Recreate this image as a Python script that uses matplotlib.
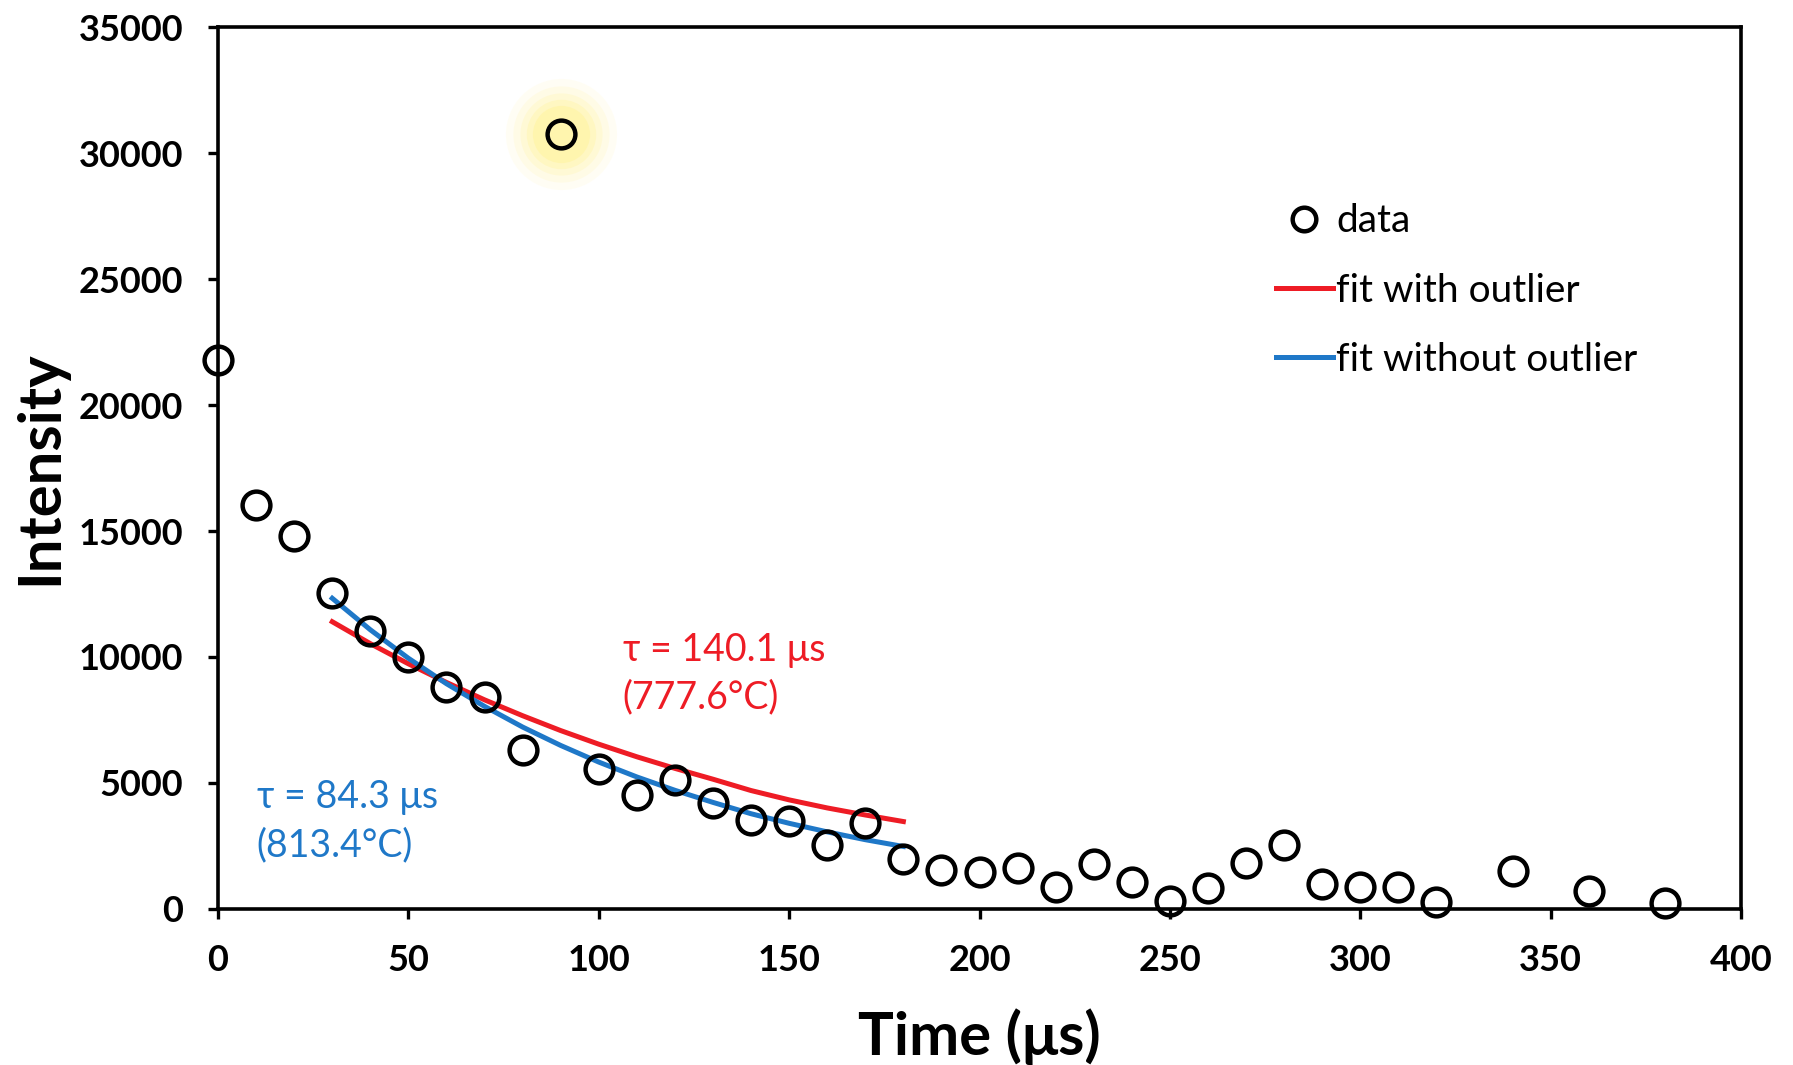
import numpy as np
import matplotlib
matplotlib.use("Agg")
from matplotlib import pyplot as plt

plt.rcParams['font.family'] = ['Lato', 'DejaVu Sans']

# measured data (time in us, intensity)
time = [0, 10, 20, 30, 40, 50, 60, 70, 80, 90, 100, 110, 120, 130, 140, 150,
        160, 170, 180, 190, 200, 210, 220, 230, 240, 250, 260, 270, 280, 290,
        300, 310, 320, 340, 360, 380]
intensity = [21800, 16050, 14800, 12550, 11030, 9990, 8800, 8400, 6300, 30750,
             5540, 4540, 5130, 4220, 3540, 3500, 2540, 3400, 2000, 1540,
             1450, 1630, 860, 1770, 1090, 320, 820, 1820, 2540, 1000,
             860, 860, 270, 1500, 730, 230]
outlier_idx = 9

# fit curves
fit_t = [30, 40, 50, 60, 70, 80, 90, 100, 110, 120, 130, 140, 150, 160, 170, 180]
fit_with = [11400, 10530, 9730, 8990, 8300, 7670, 7080, 6540, 6040, 5580,
            5150, 4700, 4330, 4010, 3730, 3470]
fit_without = [12330, 11080, 9950, 8940, 8040, 7220, 6490, 5830, 5240, 4710,
               4230, 3780, 3400, 3060, 2750, 2480]

red = '#ee1c25'
blue = '#1f78c8'

fig = plt.figure(figsize=(17.93, 10.65), dpi=100)
ax = fig.add_axes([0.1216, 0.1465, 0.8494, 0.8281])

# yellow glow behind the outlier
ox, oy = time[outlier_idx], intensity[outlier_idx]
for s, a in zip([6400, 4800, 3500, 2500, 1700], [0.08, 0.11, 0.15, 0.2, 0.25]):
    ax.scatter([ox], [oy], s=s, color='#fff176', alpha=a, lw=0, zorder=1)

ax.plot(fit_t, fit_with, color=red, lw=3.6, zorder=2, label='fit with outlier')
ax.plot(fit_t, fit_without, color=blue, lw=3.6, zorder=2, label='fit without outlier')
ax.plot(time, intensity, 'o', ms=20, mfc='none', mec='black', mew=3.2,
        zorder=3, label='data', clip_on=False)

ax.text(106.3, 11000, 'τ = 140.1 μs\n(777.6°C)', color=red, fontsize=27,
        va='top', ha='left', linespacing=1.4)
ax.text(10.2, 5150, 'τ = 84.3 μs\n(813.4°C)', color=blue, fontsize=27,
        va='top', ha='left', linespacing=1.4)

ax.set_xlim(0, 400)
ax.set_ylim(0, 35000)
ax.set_xticks(np.arange(0, 401, 50))
ax.set_yticks(np.arange(0, 35001, 5000))
for sp in ax.spines.values():
    sp.set_linewidth(2.6)
ax.tick_params(direction='out', length=7, width=2.4, labelsize=26, pad=18)
for lab in ax.get_xticklabels() + ax.get_yticklabels():
    lab.set_fontweight('bold')

ax.set_xlabel('Time (μs)', fontsize=43, fontweight='bold', labelpad=23)
ax.set_ylabel('Intensity', fontsize=43, fontweight='bold', labelpad=8)

h, l = ax.get_legend_handles_labels()
order = [2, 0, 1]
ax.legend([h[i] for i in order], [l[i] for i in order], loc='upper left',
          bbox_to_anchor=(0.682, 0.822), frameon=False, fontsize=28,
          handlelength=1.45, handletextpad=0.1, labelspacing=0.85, borderpad=0,
          markerscale=0.85)

fig.savefig('out.png', dpi=100)
